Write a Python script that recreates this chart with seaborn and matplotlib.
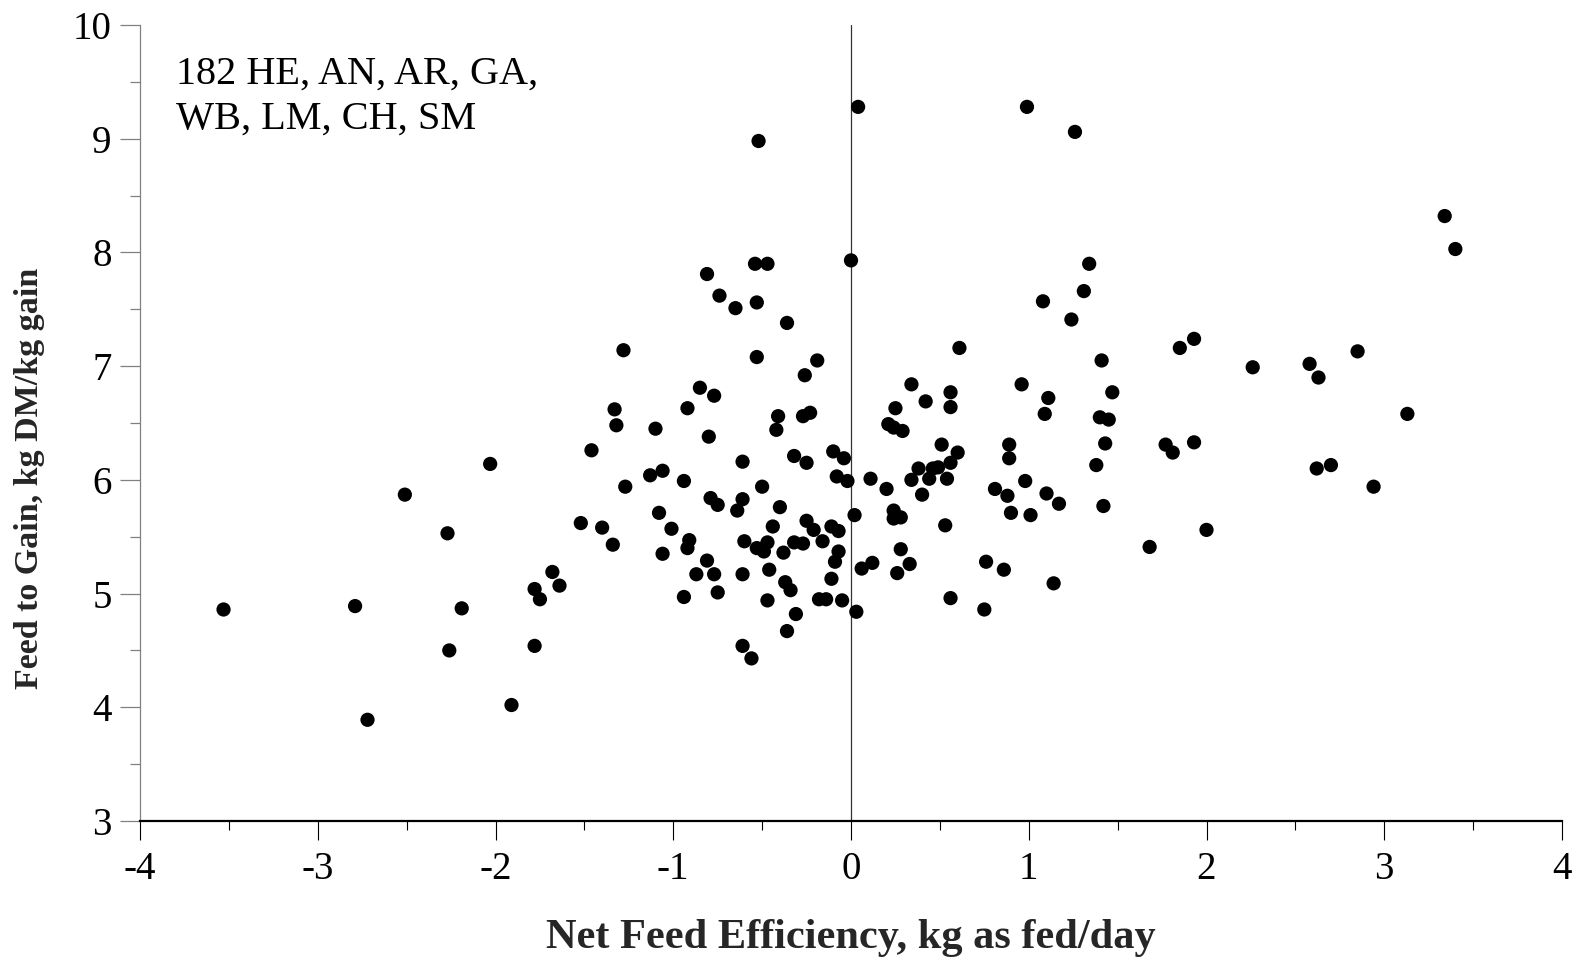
import matplotlib
matplotlib.use("Agg")
import matplotlib.pyplot as plt
import seaborn as sns
import pandas as pd
from matplotlib.ticker import MultipleLocator

# Net feed efficiency (kg as fed/day)
nfe = [
    -3.53, -2.79, -2.72, -2.51, -2.27, -2.26, -2.19, -2.03, -1.91, -1.78,
    -1.75, -1.78, -1.68,
    0.00, -0.54, -0.47, -0.81, -0.74, -0.65, -0.53, -0.36, -1.28, -0.53,
    -0.19, -0.26, -0.85, -0.77, -1.33, -1.32, -0.92, -0.41, -0.42, -0.27,
    -0.23, -1.10, -0.80, -1.46, -0.61, -0.32, -0.25, -0.10, -0.04, -1.13,
    -1.06, -0.94, -1.27, -0.50, -0.08, -0.02, -0.79, -0.75, -0.61, -0.64,
    -0.40, -1.08, 0.02, -1.52, -1.40, -1.34, -1.01, -0.44, -0.25, -0.21,
    -0.16, -0.11, -0.07, -0.91, -0.92, -0.60, -0.53, -0.49, -0.47, -0.38,
    -0.32, -0.27, -0.07, -0.09, -1.06, -0.81, -0.87, -0.77, -0.61, -0.46,
    -0.11, 0.06, -1.64, -0.75, -0.37, -0.34, -0.94, -0.47, -0.18, -0.14,
    -0.05, 0.03, -0.31, -0.36, -0.61, -0.56,
    0.04, 1.34, 1.31, 1.08, 1.24, 1.93, 1.85, 0.61, 1.41, 0.34,
    0.96, 1.47, 0.56, 0.42, 1.11, 0.56, 0.25, 1.09, 1.40, 1.45,
    0.21, 0.24, 0.29, 1.93, 1.77, 1.81, 1.43, 0.89, 0.89, 0.51,
    0.60, 0.56, 1.38, 0.38, 0.46, 0.49, 0.34, 0.44, 0.54, 0.11,
    0.20, 0.40, 0.81, 0.88, 0.98, 1.10, 1.17, 1.42, 0.90, 1.01,
    0.24, 0.24, 0.28, 0.53, 0.28, 0.12, 0.33, 0.26, 0.76, 0.86,
    1.14, 1.68, 0.56, 0.75,
    3.34, 3.40, 2.26, 2.58, 2.63, 2.85, 3.13, 2.62, 2.70, 2.94,
    2.00, -0.52, 0.99, 1.26,
]

# Feed to gain (kg DM/kg gain)
fg = [
    4.86, 4.89, 3.89, 5.87, 5.53, 4.50, 4.87, 6.14, 4.02, 5.04,
    4.95, 4.54, 5.19,
    7.93, 7.90, 7.90, 7.81, 7.62, 7.51, 7.56, 7.38, 7.14, 7.08,
    7.05, 6.92, 6.81, 6.74, 6.62, 6.48, 6.63, 6.56, 6.44, 6.56,
    6.59, 6.45, 6.38, 6.26, 6.16, 6.21, 6.15, 6.25, 6.19, 6.04,
    6.08, 5.99, 5.94, 5.94, 6.03, 5.99, 5.84, 5.78, 5.83, 5.73,
    5.76, 5.71, 5.69, 5.62, 5.58, 5.43, 5.57, 5.59, 5.64, 5.56,
    5.46, 5.59, 5.55, 5.47, 5.40, 5.46, 5.40, 5.37, 5.45, 5.36,
    5.45, 5.44, 5.37, 5.28, 5.35, 5.29, 5.17, 5.17, 5.17, 5.21,
    5.13, 5.22, 5.07, 5.01, 5.10, 5.03, 4.97, 4.94, 4.95, 4.95,
    4.94, 4.84, 4.82, 4.67, 4.54, 4.43,
    9.28, 7.90, 7.66, 7.57, 7.41, 7.24, 7.16, 7.16, 7.05, 6.84,
    6.84, 6.77, 6.77, 6.69, 6.72, 6.64, 6.63, 6.58, 6.55, 6.53,
    6.49, 6.46, 6.43, 6.33, 6.31, 6.24, 6.32, 6.31, 6.19, 6.31,
    6.24, 6.15, 6.13, 6.10, 6.10, 6.11, 6.00, 6.01, 6.01, 6.01,
    5.92, 5.87, 5.92, 5.86, 5.99, 5.88, 5.79, 5.77, 5.71, 5.69,
    5.73, 5.66, 5.67, 5.60, 5.39, 5.27, 5.26, 5.18, 5.28, 5.21,
    5.09, 5.41, 4.96, 4.86,
    8.32, 8.03, 6.99, 7.02, 6.90, 7.13, 6.58, 6.10, 6.13, 5.94,
    5.56, 8.98, 9.28, 9.06,
]

x_ticks = [-4, -3, -2, -1, 0, 1, 2, 3, 4]
y_ticks = [3, 4, 5, 6, 7, 8, 9, 10]
annotation = "182 HE, AN, AR, GA,\nWB, LM, CH, SM"
x_label = "Net Feed Efficiency, kg as fed/day"
y_label = "Feed to Gain, kg DM/kg gain"

sns.set_style("ticks")
plt.rcParams['font.family'] = ['Liberation Serif', 'DejaVu Serif']

df = pd.DataFrame({"nfe": nfe, "fg": fg})

fig = plt.figure(figsize=(15.81, 9.59), dpi=100)
ax = fig.add_axes([140 / 1581, 1 - 821 / 959, 1422 / 1581, 796 / 959])

ax.axvline(0, color="#333333", linewidth=0.9, zorder=1)
sns.scatterplot(data=df, x="nfe", y="fg", ax=ax, color="black", s=105,
                linewidth=0, edgecolor="none", zorder=3, legend=False)

ax.set_xlim(-4, 4)
ax.set_ylim(3, 10)
ax.set_xticks(x_ticks)
ax.set_yticks(y_ticks)
ax.set_xticklabels([str(t) for t in x_ticks])
ax.set_yticklabels([str(t) for t in y_ticks])
ax.xaxis.set_minor_locator(MultipleLocator(0.5))
ax.yaxis.set_minor_locator(MultipleLocator(0.5))

sns.despine(ax=ax, top=True, right=True)
ax.spines['bottom'].set_color('black')
ax.spines['bottom'].set_linewidth(1.6)
ax.spines['left'].set_color('#808080')
ax.spines['left'].set_linewidth(0.9)

ax.tick_params(axis='x', which='major', direction='out', length=13.7, width=0.8,
               color='black', labelsize=28, pad=8, labelcolor='black')
ax.tick_params(axis='x', which='minor', direction='out', length=6.5, width=0.8,
               color='black')
ax.tick_params(axis='y', which='major', direction='out', length=14.4, width=0.9,
               color='#808080', labelsize=28, pad=6, labelcolor='black')
ax.tick_params(axis='y', which='minor', direction='out', length=7.2, width=0.9,
               color='#808080')

ax.set_xlabel(x_label, fontsize=30.5, fontweight='bold', va='center')
ax.set_ylabel(y_label, fontsize=24.5, fontweight='bold', va='center')
ax.xaxis.set_label_coords(0.5, -0.147)
ax.yaxis.set_label_coords(-0.0775, 0.43)

ax.text(0.0253, 0.91, annotation, transform=ax.transAxes, fontsize=29,
        ha='left', va='center', linespacing=1.32, color='black')

ax.set_facecolor('white')
fig.patch.set_facecolor('white')
fig.savefig("out.png", dpi=100, facecolor='white')
